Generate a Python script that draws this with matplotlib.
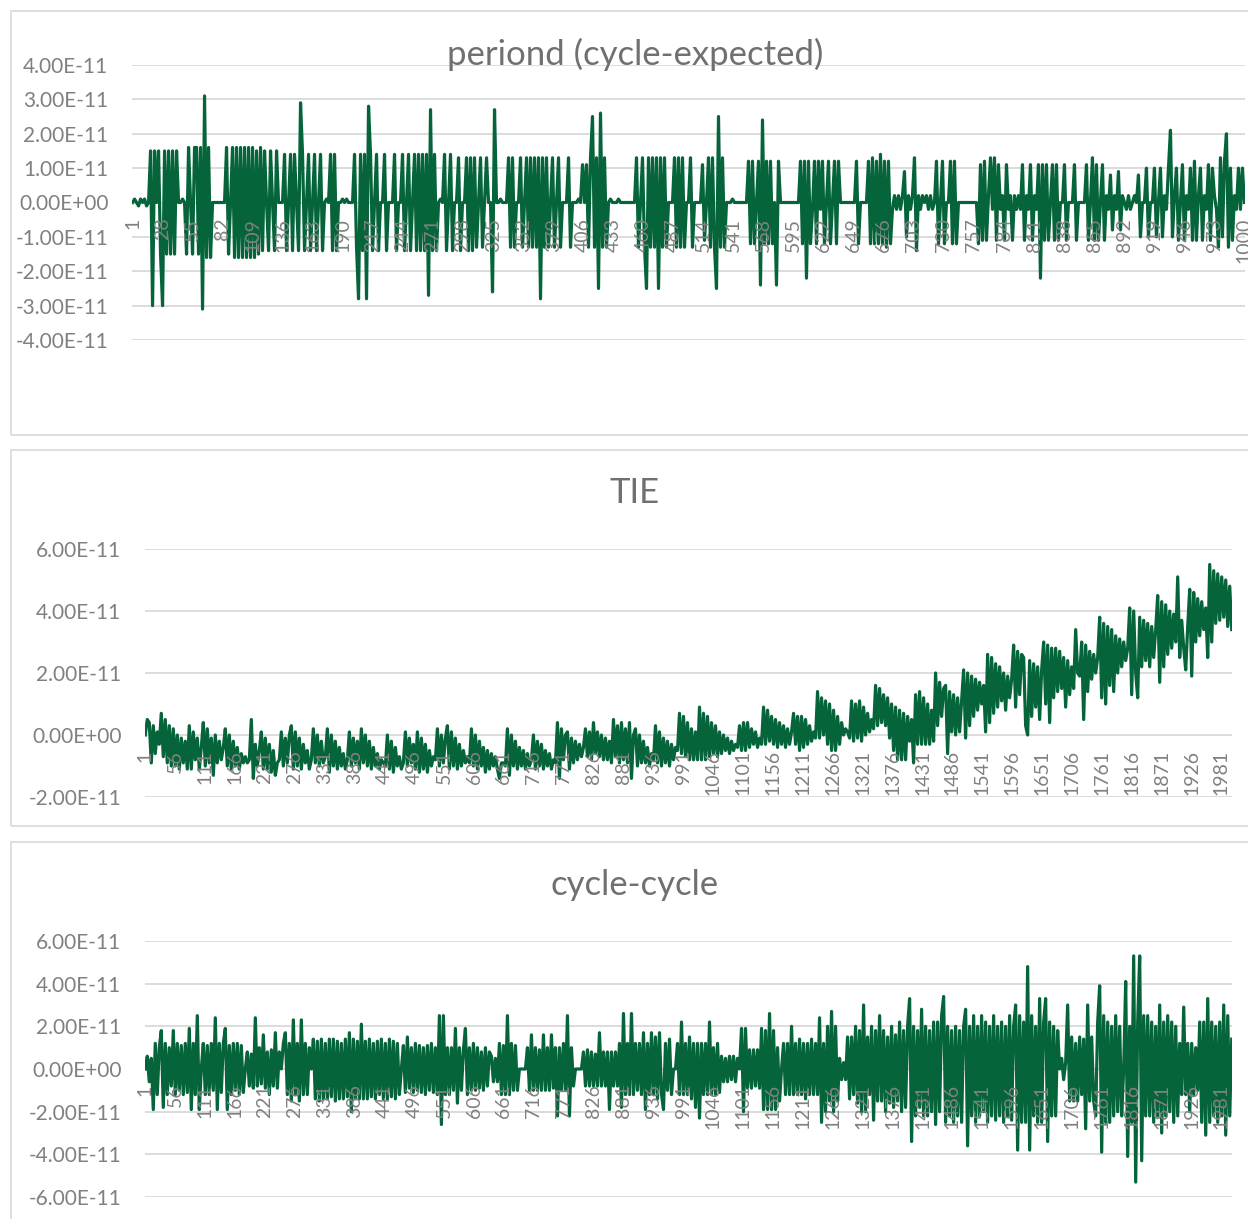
import numpy as np
import matplotlib
matplotlib.use('Agg')
import matplotlib.pyplot as plt
from matplotlib.ticker import FuncFormatter
from matplotlib.patches import Rectangle

plt.rcParams['font.family'] = ['Lato', 'DejaVu Sans']

# values, unit 1e-12 s (downsampled readings)
period_n = 1000
period = [
    0, 1, 0, -1, 1, 0, 1, -1, 0,
    15, -30, 15, 0,
    15, -15, -30, 15, -15, 15, -15, 15, -15, 15,
    0, 0, 1, 0,
    -15, 16, 0, -15, 16, 16, -15, 16, -31, 31, -16, 16, -16,
    0, 0, 0, 0, 0, 0, 0,
    16, -15, 0,
    16, -16, 16, -16, 16, -16, 16, -16, 16, -16, 16, -16, 15, -15, 16,
    -14, 15, 0, -14, 15, 0, -14, 15,
    0, 0, 0,
    14, -14, 0, 14, -14,
    14, 0, -14, 29, 14, -14, 0,
    14, -14, 0, 14, -14, 0, 14, -14, 0,
    1, 0, 14, -14, 14, -14, 0, 0,
    1, 0, 1, 0, 0, 0,
    14, -13, -28, 14, -14, 14, -28, 28, 14, -14,
    0, 14, -14, 0, 0, 14, -14, 0, 0, 0, 14, -14, 0, 0, 14, -14, 0, 14, -14, 0,
    14, -14, 14, -14,
    14, -14, 14, -27, 27, -14, 14, -14,
    0, 1, 0, 14, -14, 0, 14, -14, 0,
    0, 13, -14, 0, 0, 13, -14, 13, -14, 13, -13, 0, 13, -13, 0, 13,
    0, 0, -26, 27, 0, 0, 1, 0, 0, 0,
    13, -13, 13, -13, 0, 0, 13, -13, 0, 13, -13, 13, -13, 13, -13, 13,
    -28, 13, -13, 13, -13, 0, 13, -13, 0, 13, -13, 0, 0, 0, 13, -13,
    0, 0, 0, 1, 0, 11, 0, 11,
    -13, 13, 25, -13, 13, -25, 26, -13, 13, -13,
    0, 1, 0, 0, 0, 1, 0, 0, 0, 0, 0, 0, 0, 0, 13,
    -13, 0, 13, -13, -25, 13, -13, 13, -13, 13, -25, 13, -13, 13, -13, 0,
    0, 0, 13, -13, 13, -13, 13, -13, 0, 0, 13, -13, 0, 0, 0, 0,
    11, -11, 0, 13, -13, 13, -13, -25, 25, -13, 13, -13,
    0, 0, 0, 1, 0, 0, 0, 0, 0, 0, 0,
    12, -12, 12, -12, 0, 12, -24, 24, -12, 12, -12, 12, -12, 0, -24, 12,
    0, 0, 0, 0, 0, 0, 0, 0, 0, 0,
    12, -12, 12, -22, 12, -12, -2, 12, -12, 12, -2, 12, -12, 0, 12, -12,
    0, 12, -12, 12, 0,
    0, 0, 0, 0, 0, 0, 0, 12,
    -12, 0, 0, 0, 0,
    12, -12, 13, -12, 12, -12, 14, -12, 12, -13, 12, -12,
    -2, 2, -2, 2, -2, 2, 9, -10, 2,
    -2, 2, 13, -14, 2, -2, 2, 0,
    2, -2, 2, -2, 0,
    12, -12, 0, 12, -12, 0, 0, 12, -12, 12, -12,
    0, 0, 0, 0, 0, 0, 0, 0, 0, 0, -12,
    11, -11, 12, -11, 2, 13, -2, 13, -11, 11, -2, 2, -11, 11, -2, 2, -11, 2,
    -2, 2, -2, 11, -11, 2, -2, 11, -11, 2, -2,
    11, -22, 11, -11, 11, -11, 0, 11, -11, 11, -11, 0,
    0, 11, -11, 0, 0, 0, 11, -11, 0, 0, 0, 0,
    11, -11, 0, 13, -11, 11, -11, 0, 11, -11,
    2, -2, 8, -8, 2, -2, 9, -8, 2, 0, -2, 2, -2, 0, 2, 0, 8,
    -10, 0, 0, 10, -10, 0, 0, 10, -10, 0, 10, -10, 2, -2, 10, 21, -10, 2,
    10, -11, 0, 11, -11, 2, -2, 10, -11, 12, -11, 2, 10, -11, 2, -2, 11, -11,
    10, 2, -2, -13, 13, -10, 12, 20, -13, 10, -11, 2, -2, 10, -2, 10, 0,
]

tie_n = 2000
tie = [
    0, 5, 4, -9, 3, -6, 1, -3, 7, -7,
    5, -9, 3, -10, 2, -10, 0, -11, -1, -9,
    -2, -11, 3, -11, 1, -8, -1, -11, -4, 4,
    -10, 2, -9, -1, -13, 0, -9, -2, -8, -4,
    2, -10, 0, -11, -2, -10, -4, -11, -6, -9,
    -7, -9, -8, 5, -14, -3, -10, -5, 1, -11,
    -1, -11, -3, -12, -5, -13, -9, -8, 1, -10,
    -1, -9, 0, 3, -11, 1, -10, -1, -11, -3,
    -9, -5, -11, -8, 2, -9, 0, -10, -2, -9,
    -7, 2, -12, 0, -10, -2, -11, -4, -10, -6,
    -11, -8, 1, -10, -1, -9, -2, -11, 2, -9,
    0, -10, -2, -11, -4, -10, -6, -11, -8, -9,
    -10, 0, -11, -2, -12, -4, -10, -7, -11, -9,
    1, -10, -1, -9, -3, -11, 1, -12, -1, -11,
    -3, -12, -5, -10, -7, -8, 2, -10, 0, -9,
    -1, 3, -11, 1, -10, -1, -11, -3, -10, -5,
    -9, -7, -9, 2, -10, 0, -11, -2, -10, -4,
    -12, -5, -11, -6, -10, -7, -11, -14, -9, -9,
    -10, 2, -13, 0, -10, -2, -11, -4, -10, -5,
    -11, -6, -10, -8, 0, -11, -2, -10, -3, -11,
    -5, -10, -6, -11, -8, -9, 4, -14, 2, -8,
    0, 1, -11, -1, -9, -2, -8, -3, -7, -4,
    2, -7, 1, -8, 4, -6, 1, -7, 0, -8,
    -1, -8, -2, -9, 5, -7, 3, -9, 4, -8,
    2, -9, 4, -14, 0, 2, -10, 0, -9, -2,
    -9, -4, -10, -6, -8, 3, -9, 1, -10, -1,
    -9, -2, -10, -3, -8, -4, -5, 7, -6, 6,
    -7, 4, -8, 2, -8, 1, -8, 9, -8, 7,
    -8, 6, -7, 4, -6, 3, -7, 1, -6, 0,
    -5, -1, -6, -2, -5, -3, -4, 3, -5, 4,
    -5, 4, -4, 2, -3, 1, -4, -1, -3, 9,
    -3, 8, -2, 6, -3, 5, -4, 4, -3, 3,
    -4, 2, -3, 1, 7, -3, 6, -5, 6, -4,
    5, -3, 3, -2, 1, -1, 14, -1, 12, 0,
    11, -3, 10, -5, 8, -5, 6, -3, 4, 0,
    2, 1, -1, 11, -2, 10, -1, 11, -2, 9,
    0, 7, 1, 5, 2, 16, 3, 15, 4, 13,
    3, 12, -1, 10, -5, 9, -8, 8, -8, 7,
    -8, 6, -2, 5, -9, 13, -3, 14, -3, 12,
    -3, 10, -3, 8, -2, 20, 3, 17, 6, 15,
    16, -6, 14, 1, 13, 0, 12, 1, 11, 21,
    -1, 20, 3, 19, 6, 18, 8, 17, 10, 16,
    1, 26, 4, 25, 7, 23, 9, 22, 11, 20,
    8, 19, 12, 18, 29, 9, 27, 13, 26, 25,
    3, 0, 24, 6, 23, 9, 22, 5, 21, 30,
    10, 29, 4, 28, 12, 28, 14, 27, 15, 25,
    9, 24, 13, 22, 15, 34, 20, 19, 30, 5,
    29, 14, 27, 18, 26, 20, 25, 38, 12, 36,
    10, 35, 16, 34, 14, 32, 20, 31, 22, 30,
    24, 28, 41, 13, 40, 20, 12, 38, 22, 37,
    24, 36, 22, 35, 25, 34, 45, 17, 43, 22,
    42, 26, 40, 28, 39, 30, 51, 25, 37, 28,
    21, 35, 47, 19, 46, 30, 44, 32, 43, 34,
    41, 25, 55, 30, 53, 36, 52, 37, 51, 38,
    50, 35, 48, 34,
]

cc_n = 2000
cc = [
    0, 6, -6, 5, -19, 12, -12, 10, 18, -18,
    12, -12, 10, -8, 18, -12, 12, -10, 11, -12,
    12, -11, 19, -19, 12, -12, 25, -19, 0, 12,
    -12, 11, -12, 12, -10, 24, -19, 12, -11, 12,
    19, -19, 11, -12, 12, -10, 12, -12, 11, -11,
    0, 8, -8, 7, -9, 24, -8, 10, -7, 16,
    -9, 8, -12, 9, -8, 17, -9, 8, 0, 12,
    17, -12, 12, -15, 23, -12, 12, -15, 23, -12,
    12, -12, 10, 0, 14, -14, 13, -15, 14, -14,
    12, -14, 14, -13, 14, -15, 13, -14, 12, -14,
    14, -13, 17, -20, 14, -14, 13, -14, 21, -14,
    13, -14, 14, -13, 12, -14, 13, -12, 14, -14,
    12, -14, 14, -13, 13, -14, 12, -12, 0, 11,
    -11, 15, -9, 10, -11, 12, -10, 11, -11, 10,
    -12, 11, -10, 12, -11, 10, -12, 25, -26, 25,
    -12, 10, -12, 10, -10, 19, -16, 10, -10, 9,
    19, -12, 10, -10, 12, -10, 10, -9, 8, -10,
    10, -8, 8, 6, -6, 5, -6, 12, -12, 11,
    -12, 25, -12, 12, -10, 11, -10, 0, 0, 0,
    0, 10, -10, 16, -10, 10, -10, 9, -10, 16,
    -10, 10, -10, 16, -9, 10, -22, 10, -10, 12,
    -10, 25, -22, 10, -8, 0, 0, 0, 0, 8,
    -8, 9, -8, 8, -8, 7, -8, 17, -8, 8,
    -8, 8, -19, 8, -8, 8, -8, 12, -18, 26,
    -12, 12, -12, 26, -12, 12, -10, 12, -12, 17,
    -19, 12, -12, 17, -12, 15, -14, 17, -12, -19,
    12, -10, 14, -12, 0, 0, 12, -12, 22, -12,
    12, -12, 15, -14, 12, -18, 12, -23, 12, -12,
    12, -12, 22, -12, 10, -12, 12, -11, 6, -6,
    5, -6, 6, -5, 6, -6, 5, 0, 19, -20,
    19, -9, 9, -9, 9, -8, 9, -9, 19, -19,
    18, -19, 26, -19, 18, -19, 10, -15, 0, 12,
    -12, 12, -12, 20, -12, 12, -12, 14, -12, 12,
    -14, 12, -12, 14, -12, 12, -12, 24, -25, 12,
    -20, 20, -15, 27, -20, 20, -15, 5, -5, 3,
    -5, 15, -14, 15, -12, 20, -16, 18, -20, 30,
    -20, 15, -12, 20, -24, 18, -15, 25, -15, 18,
    -20, 15, -16, 20, -18, 16, -15, 22, -20, 18,
    -18, 20, 33, -34, 20, -22, 18, -18, 28, -22,
    20, -22, 18, -20, 22, -26, 22, -20, 25, 34,
    -25, 20, -22, 18, -25, 20, -22, 18, -25, 20,
    28, -36, 20, -22, 25, -25, 20, -22, 25, -20,
    22, -25, 20, -22, 25, -24, 20, -22, 22, -25,
    20, -22, 25, -24, 20, 30, -38, 25, -25, 22,
    -25, 48, -38, 25, -22, 20, -25, 33, -25, 22,
    33, -34, 22, -22, 20, -22, 18, 0, 5, -5,
    3, 30, -15, 15, -15, 12, -15, 15, -12, 14,
    -28, 30, -15, 15, -15, -22, 22, 39, -39, 25,
    -25, 22, -25, 20, -22, 25, -20, 20, -22, 0,
    41, -41, 20, -25, 53, -53, 22, 53, -43, 25,
    -22, 25, -22, 22, -25, 20, -22, 30, -30, 22,
    -22, 25, -20, 22, -25, 20, -22, 12, -12, 29,
    -12, 12, -20, 12, -12, 10, -10, 22, -25, 22,
    -31, 33, -25, 22, -22, 20, -25, 22, -22, 30,
    -31, 25, -22, 14,
]

GREEN = '#05643a'
GRAY = '#808080'
GRID = '#d9d9d9'

W, H = 1248, 1219
fig = plt.figure(figsize=(W / 100, H / 100), dpi=100)


def panel(t, b):
    fig.patches.append(Rectangle((10.5 / W, 1 - b / H), 1.0, (b - t) / H,
                                 transform=fig.transFigure, fill=False,
                                 edgecolor=GRID, lw=1.2))


def chart(l, t, r, b, vals, n, step, ylo, yhi, ystep, title, ty):
    ax = fig.add_axes([l / W, 1 - b / H, (r - l) / W, (b - t) / H])
    ax.patch.set_alpha(0)
    x = np.linspace(1, n, len(vals))
    ax.plot(x, vals, color=GREEN, lw=2.3)
    ax.set_xlim(0.5, n + 0.5)
    ax.set_ylim(ylo, yhi)
    ax.set_yticks(np.arange(ylo, yhi + 1, ystep))
    ax.yaxis.set_major_formatter(FuncFormatter(lambda v, p: f"{v * 1e-12:.2E}"))
    xt = list(range(1, n + 1, step))
    ax.set_xticks(xt)
    ax.set_xticklabels([str(i) for i in xt])
    for s in ax.spines.values():
        s.set_visible(False)
    ax.spines['bottom'].set_position(('data', 0))
    ax.tick_params(axis='x', length=0, pad=11, labelsize=14, labelcolor=GRAY,
                   labelrotation=90)
    ax.tick_params(axis='y', length=0, pad=17, labelsize=15, labelcolor=GRAY)
    ax.grid(axis='y', color=GRID, lw=1.3)
    ax.grid(axis='x', visible=False)
    ax.yaxis.set_zorder(0.5)
    ax.xaxis.set_zorder(3)
    fig.text(635 / W, 1 - ty / H, title, ha='center', va='center',
             fontsize=25, color='#707070')
    return ax


panel(11, 435)
panel(450, 826)
panel(842, 1230)

chart(132, 65, 1245, 340, period, period_n, 27, -40, 40, 10,
      'periond (cycle-expected)', 54)
chart(145, 549, 1232, 797, tie, tie_n, 55, -20, 60, 20, 'TIE', 493)
chart(145, 941, 1232, 1197, cc, cc_n, 55, -60, 60, 20, 'cycle-cycle', 885)

fig.savefig('out.png', dpi=100)
